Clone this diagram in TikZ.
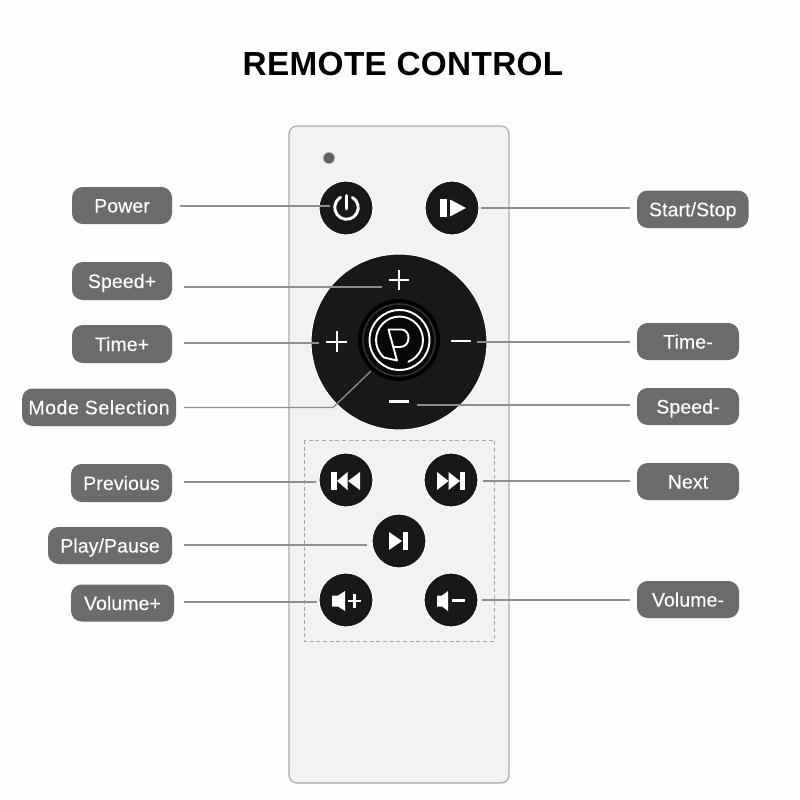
\documentclass[tikz,border=0pt]{standalone}
\usepackage{fontspec}
\setmainfont{Liberation Sans}
\definecolor{tagfill}{HTML}{6B6B6B}
\definecolor{leadergrey}{HTML}{8E8E8E}
\definecolor{keyblack}{HTML}{181818}
\definecolor{bodyfill}{HTML}{F2F2F3}
\definecolor{bodyedge}{HTML}{ABABAB}
\definecolor{paper}{HTML}{FDFDFD}
\tikzset{
  x=0.75pt,y=-0.75pt,
  tag/.style={fill=tagfill,rounded corners=8pt,text=white,inner sep=0pt,text height=10.5pt,text depth=0pt,
    font=\fontsize{14.6}{16}\selectfont\addfontfeature{LetterSpace=0.5,FakeBold=0.25}},
  leader/.style={draw=leadergrey,line width=1pt},
  keycap/.style={circle,fill=keyblack,draw=white,line width=0.8pt,minimum size=40.5pt,inner sep=0pt},
  glyph/.style={fill=white,draw=none},
  glyphline/.style={draw=white,line width=2pt},
  emblem/.style={draw=white,line width=1.45pt,line cap=round,line join=round},
}
\newcommand{\tagbox}[6]{% name, x0, y0, x1, y1, text
  \node[tag,minimum width={(#4-#2)*0.75pt},minimum height={(#5-#3)*0.75pt}] (#1) at ({(#2+#4)/2},{(#3+#5)/2}) {#6};}
\begin{document}
\begin{tikzpicture}
\useasboundingbox (0,0) rectangle (800,800);
\fill[paper] (0,0) rectangle (800,800);

\node[font=\fontsize{25}{30}\selectfont\bfseries\addfontfeature{LetterSpace=1},text=black,text height=18pt,text depth=0pt] (title) at (403,63) {REMOTE CONTROL};

% handset body
\draw[fill=bodyfill,draw=bodyedge,line width=0.9pt,rounded corners=6pt] (289,126) rectangle (509,783);
\fill[gray!75!black,draw=gray!40,line width=0.6pt] (329,158) circle (4.4pt);
\draw[draw=gray!70,line width=0.6pt,dash pattern=on 3pt off 2pt] (304,440) rectangle (494,641);

% keys
\node[keycap] (power) at (346,208) {};
\node[keycap] (start) at (452,208) {};
\node[circle,fill=keyblack,draw=white,line width=0.8pt,minimum size=132pt,inner sep=0pt] (dial) at (399,342) {};
\fill[black] (399,340) circle (30.75pt);
\fill[black!80] (399,340) circle (27.6pt);
\fill[black!97] (399,340) circle (26.4pt);
\node[keycap] (prev) at (346,480) {};
\node[keycap] (next) at (451,480) {};
\node[keycap] (play) at (399,541) {};
\node[keycap] (volup) at (346,600) {};
\node[keycap] (voldn) at (451,600) {};

% power symbol
\draw[glyphline,line width=2.2pt,line cap=round]
  ({346.5+11.7*cos(60)},{207.5-11.7*sin(60)}) arc[start angle=60,end angle=-240,radius=8.8pt];
\draw[glyphline,line width=2.2pt,line cap=round] (346.5,195.5) -- (346.5,209);

% start/stop symbol
\fill[glyph] (440,199) rectangle (447,217);
\fill[glyph] (450,199.5) -- (466,208) -- (450,216.5) -- cycle;

% dial marks
\draw[glyphline] (389,280) -- (409,280) (399,270) -- (399,290);
\draw[glyphline] (326,342) -- (347,342) (337,331) -- (337,352);
\draw[glyphline] (451,341) -- (471,341);
\draw[glyphline] (389,401.5) -- (409,401.5);

% mode emblem: ring, open inner ring, letter P
\draw[emblem] (399.5,340) circle (22.5pt);
\draw[emblem]
  ({399.5+23.5*cos(-68)},{340-23.5*sin(-68)}) arc[start angle=-68,end angle=228,radius=17.6pt]
  -- (397,360.5) -- (388.5,329.5) -- (401.5,329.5)
  .. controls (405.5,329.5) and (408.5,333) .. (408.5,338)
  .. controls (408.5,343.5) and (405,347) .. (400,347) -- (393,347);

% previous
\fill[glyph] (331,472) rectangle (336.5,490);
\fill[glyph] (347.5,472) -- (337,481) -- (347.5,490) -- cycle;
\fill[glyph] (360,472) -- (348,481) -- (360,490) -- cycle;
% next
\fill[glyph] (465,472) rectangle (460,490);
\fill[glyph] (437,472) -- (448.5,481) -- (437,490) -- cycle;
\fill[glyph] (448.5,472) -- (460,481) -- (448.5,490) -- cycle;
% play/pause
\fill[glyph] (389,532) -- (402,541) -- (389,550) -- cycle;
\fill[glyph] (403,532) rectangle (408,550);
% volume up
\fill[glyph] (332,595.5) -- (338,595.5) -- (345,591) -- (345,611) -- (338,606.5) -- (332,606.5) -- cycle;
\draw[glyphline] (348,601) -- (361,601) (354.5,594) -- (354.5,608);
% volume down
\fill[glyph] (437,595.5) -- (442,595.5) -- (448,591) -- (448,611) -- (442,606.5) -- (437,606.5) -- cycle;
\draw[glyphline] (452,600.5) -- (465,600.5);

% callout labels
\tagbox{lpower}{72}{187}{172}{224}{Power}
\tagbox{lstart}{637}{190.5}{748.5}{228}{Start/Stop}
\tagbox{lspeedup}{72}{262}{172}{300}{Speed+}
\tagbox{ltimeup}{72}{325}{172}{363}{Time+}
\tagbox{lmode}{22}{388.5}{176}{426}{\addfontfeature{LetterSpace=3}Mode Selection}
\tagbox{lprev}{71}{464}{172}{502}{Previous}
\tagbox{lplay}{48}{527}{172}{564}{Play/Pause}
\tagbox{lvolup}{71}{584.5}{174}{621.5}{Volume+}
\tagbox{ltimedn}{637}{323}{739}{360}{Time-}
\tagbox{lspeeddn}{637}{388}{739}{425}{Speed-}
\tagbox{lnext}{637}{463}{739}{500}{Next}
\tagbox{lvoldn}{637}{581}{739}{618}{Volume-}

% free ends of the leaders, just clear of the labels and at the keys
\coordinate (apower) at (180,206);   \coordinate (bpower) at (330,206);
\coordinate (astart) at (630,208);   \coordinate (bstart) at (481,208);
\coordinate (aspeedup) at (184,287); \coordinate (bspeedup) at (382,287);
\coordinate (atimeup) at (184,343);  \coordinate (btimeup) at (319,343);
\coordinate (amode) at (184,407.5);  \coordinate (kmode) at (333,407.5); \coordinate (bmode) at (371,371);
\coordinate (atimedn) at (630,342);  \coordinate (btimedn) at (477,342);
\coordinate (aspeeddn) at (630,405); \coordinate (bspeeddn) at (417,405);
\coordinate (aprev) at (184,482);    \coordinate (bprev) at (316,482);
\coordinate (anext) at (630,481);    \coordinate (bnext) at (483,481);
\coordinate (aplay) at (184,545);    \coordinate (bplay) at (367,545);
\coordinate (avolup) at (184,602);   \coordinate (bvolup) at (317,602);
\coordinate (avoldn) at (630,600);   \coordinate (bvoldn) at (482,600);

\foreach \n in {power,start,speedup,timeup,timedn,speeddn,prev,next,play,volup,voldn}
  \draw[leader] (a\n) -- (b\n);
\draw[leader] (amode) -- (kmode) -- (bmode);
\end{tikzpicture}
\end{document}
